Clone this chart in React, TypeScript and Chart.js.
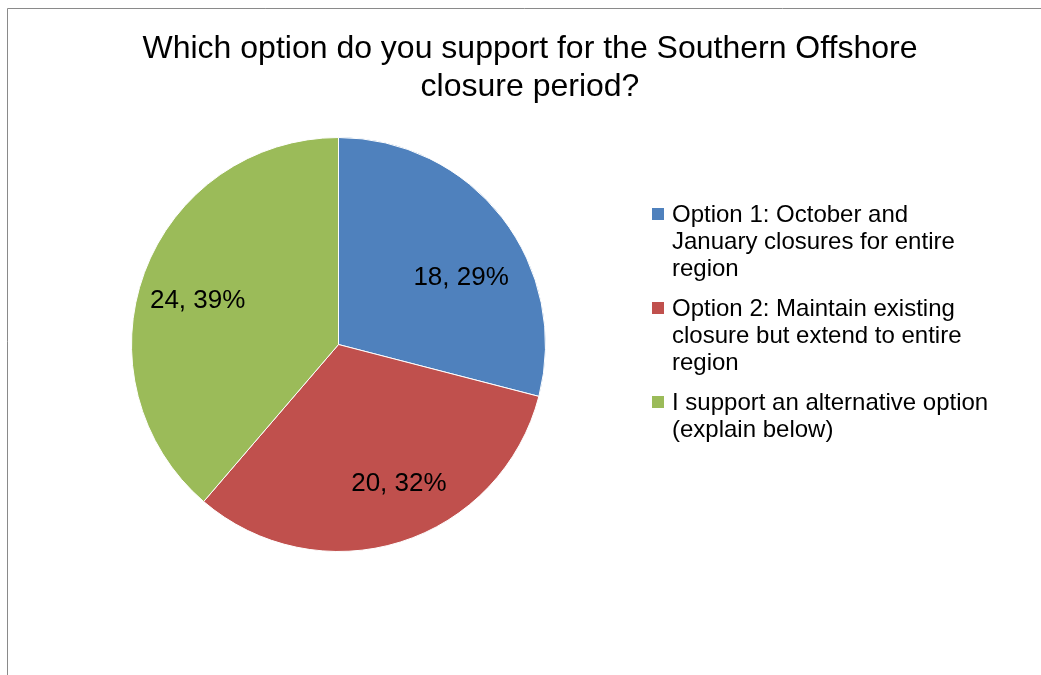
import React, { useEffect, useRef } from "react";
import { Chart, registerables } from "chart.js";

Chart.register(...registerables);

const titleLines = ["Which option do you support for the Southern Offshore", "closure period?"];
const categories = [
  "Option 1: October and January closures for entire region",
  "Option 2: Maintain existing closure but extend to entire region",
  "I support an alternative option (explain below)",
];
const values = [18, 20, 24];
const colors = ["#4F81BD", "#C0504D", "#9BBB59"];
// small "best fit" nudges for the data labels, relative to the arc's own label point
const labelNudge = [
  [8, 22],
  [17, 1],
  [-5, 7],
];

const FONT = "'Liberation Sans', Arial, sans-serif";

function wrap(ctx: CanvasRenderingContext2D, text: string, maxW: number): string[] {
  const words = text.split(" ");
  const lines: string[] = [];
  let cur = "";
  for (const w of words) {
    const test = cur ? cur + " " + w : w;
    if (ctx.measureText(test).width > maxW && cur) {
      lines.push(cur);
      cur = w;
    } else cur = test;
  }
  if (cur) lines.push(cur);
  return lines;
}

const decorPlugin = {
  id: "decor",
  beforeDraw(chart: any) {
    const ctx = chart.ctx as CanvasRenderingContext2D;
    ctx.save();
    ctx.fillStyle = "#ffffff";
    ctx.fillRect(0, 0, chart.width, chart.height);
    ctx.strokeStyle = "#8a8a8a";
    ctx.lineWidth = 1;
    ctx.beginPath();
    ctx.moveTo(7.5, chart.height);
    ctx.lineTo(7.5, 8.5);
    ctx.lineTo(chart.width, 8.5);
    ctx.stroke();
    ctx.restore();
  },
  afterDraw(chart: any) {
    const ctx = chart.ctx as CanvasRenderingContext2D;
    ctx.save();
    // title
    ctx.fillStyle = "#000";
    ctx.font = `32px ${FONT}`;
    ctx.textAlign = "center";
    ctx.textBaseline = "middle";
    titleLines.forEach((t, i) => ctx.fillText(t, 530, 49 + i * 38));

    // data labels
    const meta = chart.getDatasetMeta(0);
    const data = chart.data.datasets[0].data as number[];
    const total = data.reduce((a, b) => a + b, 0);
    ctx.font = `26px ${FONT}`;
    meta.data.forEach((arc: any, i: number) => {
      const p = arc.getProps(["x", "y", "startAngle", "endAngle", "outerRadius"], true);
      const mid = (p.startAngle + p.endAngle) / 2;
      const r = p.outerRadius * 0.7;
      const x = p.x + Math.cos(mid) * r + labelNudge[i][0];
      const y = p.y + Math.sin(mid) * r + labelNudge[i][1];
      const pct = Math.round((data[i] / total) * 100);
      ctx.fillText(`${data[i]}, ${pct}%`, x, y);
    });

    // legend
    ctx.font = `24px ${FONT}`;
    ctx.textAlign = "left";
    let y = 214;
    const lineH = 27;
    (chart.data.labels as string[]).forEach((lab, i) => {
      const lines = wrap(ctx, lab, 322);
      ctx.fillStyle = colors[i];
      ctx.fillRect(652, y - 6, 12, 12);
      ctx.fillStyle = "#000";
      lines.forEach((l, j) => ctx.fillText(l, 672, y + 1 + j * lineH));
      y += lines.length * lineH + 13;
    });
    ctx.restore();
  },
};

export default function App() {
  const ref = useRef<HTMLCanvasElement | null>(null);
  useEffect(() => {
    if (!ref.current) return;
    const chart = new Chart(ref.current, {
      type: "pie",
      data: {
        labels: categories,
        datasets: [
          {
            data: values,
            backgroundColor: colors,
            borderColor: "#ffffff",
            borderWidth: 1,
          },
        ],
      },
      options: {
        responsive: false,
        animation: false,
        layout: { padding: { left: 131, top: 137, right: 495, bottom: 123 } },
        plugins: {
          legend: { display: false },
          title: { display: false },
          tooltip: { enabled: false },
        },
      },
      plugins: [decorPlugin],
    });
    return () => chart.destroy();
  }, []);
  return (
    <div style={{ position: "fixed", left: 0, top: 0, width: 1041, height: 675 }}>
      <canvas ref={ref} width={1041} height={675} style={{ display: "block" }} />
    </div>
  );
}
